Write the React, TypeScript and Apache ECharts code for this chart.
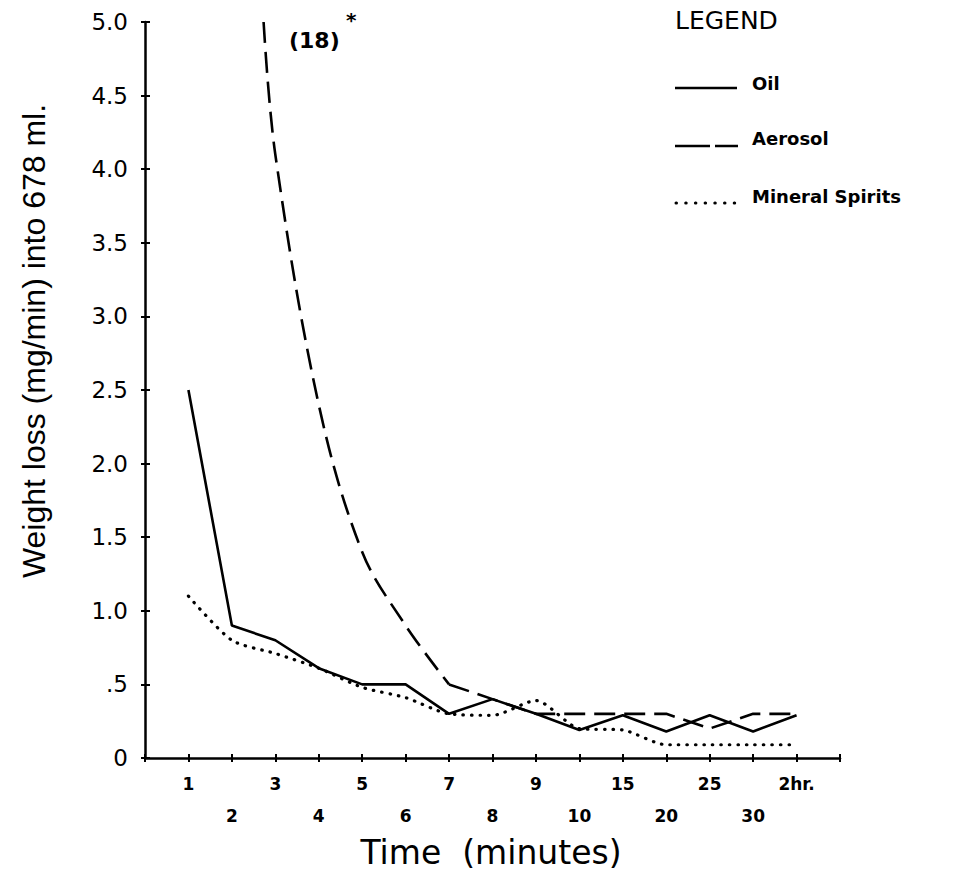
import { useEffect, useRef } from 'react';
import * as echarts from 'echarts';

// Time categories (minutes) placed at x = 1..15
const categories = ['1', '2', '3', '4', '5', '6', '7', '8', '9', '10', '15', '20', '25', '30', '2hr.'];
// Y tick labels for 0, 0.5, ..., 5.0
const yTickLabels = ['0', '.5', '1.0', '1.5', '2.0', '2.5', '3.0', '3.5', '4.0', '4.5', '5.0'];

// Weight loss (mg/min) per category
const oilValues = [2.5, 0.9, 0.8, 0.61, 0.5, 0.5, 0.3, 0.4, 0.3, 0.19, 0.29, 0.18, 0.29, 0.18, 0.29];
const mineralValues = [1.1, 0.8, 0.71, 0.61, 0.48, 0.41, 0.3, 0.29, 0.39, 0.2, 0.19, 0.09, 0.09, 0.09, 0.09];
const aerosolValues = [null, 18, 4.1, 2.4, 1.4, 0.9, 0.5, 0.4, 0.3, 0.3, 0.3, 0.3, 0.2, 0.3, 0.3];
// where the aerosol curve leaves the top of the scale (time position, value)
const aerosolEntry = [2.73, 5.0];

const FONT = "'DejaVu Sans', sans-serif";

export default function App() {
  const ref = useRef<HTMLDivElement>(null);

  useEffect(() => {
    const chart = echarts.init(ref.current!, null, { renderer: 'svg' });
    const black = '#000';

    const toPairs = (arr: (number | null)[], from: number, to: number) =>
      arr.slice(from, to + 1).map((v, k) => [from + k + 1, v]);

    const aerosolCurve = [aerosolEntry, ...toPairs(aerosolValues, 2, 6)];
    const aerosolTail = toPairs(aerosolValues, 6, 14);

    const aerosolDash = [21, 9];
    const dotDash = [0.5, 8];

    const option: any = {
      animation: false,
      backgroundColor: '#fff',
      grid: { left: 145, right: 113, top: 22, bottom: 115, outerBoundsMode: 'none' },
      xAxis: [
        {
          type: 'value',
          position: 'bottom',
          min: 0,
          max: 16,
          interval: 1,
          splitLine: { show: false },
          axisLine: { show: true, lineStyle: { color: black, width: 2.5 } },
          axisTick: { show: true, inside: false, length: 4, lineStyle: { color: black, width: 2 } },
          axisLabel: {
            show: true,
            margin: 10,
            color: black,
            fontFamily: FONT,
            fontSize: 17,
            fontWeight: 'bold',
            lineHeight: 32,
            showMinLabel: true,
            showMaxLabel: true,
            formatter: (v: number) => {
              const i = Math.round(v) - 1;
              if (i < 0 || i >= categories.length) return '';
              return i % 2 === 0 ? categories[i] : '\n' + categories[i];
            },
          },
        },
        {
          type: 'value',
          position: 'bottom',
          min: 0,
          max: 16,
          interval: 1,
          splitLine: { show: false },
          axisLine: { show: false },
          axisTick: { show: true, inside: true, length: 4, lineStyle: { color: black, width: 2 } },
          axisLabel: { show: false },
        },
      ],
      yAxis: [
        {
          type: 'value',
          min: 0,
          max: 5,
          interval: 0.5,
          splitLine: { show: false },
          axisLine: { show: true, lineStyle: { color: black, width: 2.5 } },
          axisTick: { show: true, inside: false, length: 4, lineStyle: { color: black, width: 2 } },
          axisLabel: {
            margin: 17,
            color: black,
            fontFamily: FONT,
            fontSize: 23,
            formatter: (v: number) => yTickLabels[Math.round(v / 0.5)] ?? '',
          },
        },
        {
          type: 'value',
          position: 'left',
          min: 0,
          max: 5,
          interval: 0.5,
          splitLine: { show: false },
          axisLine: { show: false },
          axisTick: { show: true, inside: true, length: 5, lineStyle: { color: black, width: 2 } },
          axisLabel: { show: false },
        },
      ],
      series: [
        {
          name: 'Oil',
          type: 'line',
          symbol: 'none',
          data: oilValues.map((v, i) => [i + 1, v]),
          lineStyle: { color: black, width: 2.6, type: 'solid' },
          z: 3,
        },
        {
          name: 'Aerosol',
          type: 'line',
          symbol: 'none',
          smooth: 0.35,
          data: aerosolCurve,
          lineStyle: { color: black, width: 2.6, type: aerosolDash },
          z: 2,
        },
        {
          name: 'Aerosol',
          type: 'line',
          symbol: 'none',
          data: aerosolTail,
          lineStyle: { color: black, width: 2.6, type: aerosolDash },
          z: 2,
        },
        {
          name: 'Mineral Spirits',
          type: 'line',
          symbol: 'none',
          smooth: 0.25,
          data: mineralValues.map((v, i) => [i + 1, v]),
          lineStyle: { color: black, width: 3.2, type: dotDash, cap: 'round' },
          z: 1,
        },
      ],
      graphic: [
        {
          type: 'text',
          x: 34,
          y: 341,
          rotation: Math.PI / 2,
          style: {
            text: 'Weight loss (mg/min) into 678 ml.',
            fill: black,
            font: "32px 'Liberation Sans', sans-serif",
            align: 'center',
            verticalAlign: 'middle',
          },
        },
        {
          type: 'text',
          x: 491,
          y: 852,
          style: {
            text: 'Time  (minutes)',
            fill: black,
            font: `33px ${FONT}`,
            align: 'center',
            verticalAlign: 'middle',
          },
        },
        {
          type: 'text',
          x: 289,
          y: 40,
          style: {
            text: `(${aerosolValues[1]})`,
            fill: black,
            font: `bold 22px ${FONT}`,
            align: 'left',
            verticalAlign: 'middle',
          },
        },
        {
          type: 'text',
          x: 346,
          y: 20,
          style: { text: '*', fill: black, font: `bold 20px ${FONT}`, align: 'left', verticalAlign: 'middle' },
        },
        // Legend
        {
          type: 'text',
          x: 675,
          y: 20,
          style: { text: 'LEGEND', fill: black, font: `25px ${FONT}`, align: 'left', verticalAlign: 'middle' },
        },
        {
          type: 'line',
          shape: { x1: 675, y1: 88, x2: 737, y2: 88 },
          style: { stroke: black, lineWidth: 2.4 },
        },
        {
          type: 'text',
          x: 752,
          y: 83,
          style: { text: 'Oil', fill: black, font: `bold 18px ${FONT}`, align: 'left', verticalAlign: 'middle' },
        },
        {
          type: 'line',
          shape: { x1: 675, y1: 146, x2: 738, y2: 146 },
          style: { stroke: black, lineWidth: 2.4, lineDash: [35, 5] },
        },
        {
          type: 'text',
          x: 752,
          y: 138,
          style: { text: 'Aerosol', fill: black, font: `bold 18px ${FONT}`, align: 'left', verticalAlign: 'middle' },
        },
        {
          type: 'line',
          shape: { x1: 676, y1: 203, x2: 736, y2: 203 },
          style: { stroke: black, lineWidth: 3, lineDash: [0.5, 9.2], lineCap: 'round' },
        },
        {
          type: 'text',
          x: 752,
          y: 196,
          style: { text: 'Mineral Spirits', fill: black, font: `bold 18px ${FONT}`, align: 'left', verticalAlign: 'middle' },
        },
      ],
    };

    chart.setOption(option);
    return () => chart.dispose();
  }, []);

  return (
    <div
      ref={ref}
      style={{ position: 'absolute', left: 0, top: 0, width: 953, height: 873, background: '#fff' }}
    />
  );
}
